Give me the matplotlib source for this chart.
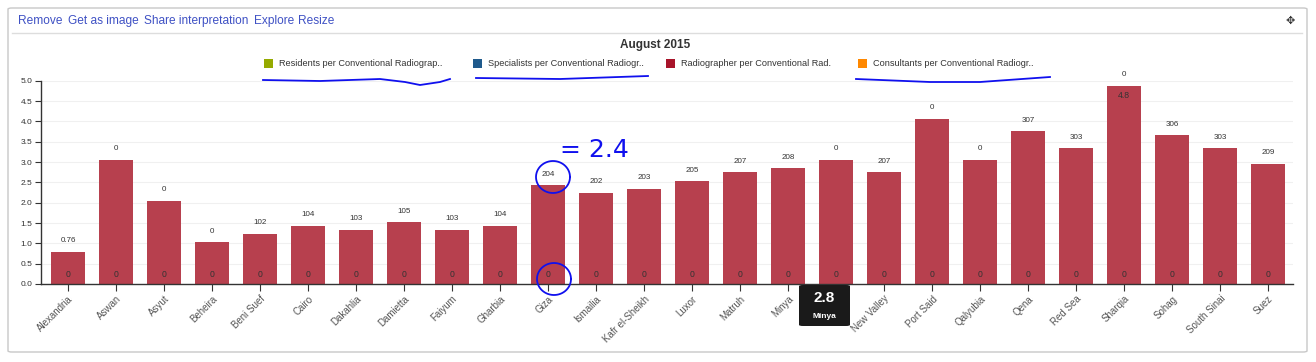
import numpy as np
import matplotlib.pyplot as plt
from matplotlib.patches import FancyBboxPatch, Rectangle
from matplotlib.lines import Line2D

plt.rcParams['font.family'] = ['Liberation Sans', 'DejaVu Sans']

# data
regions = ['Alexandria', 'Aswan', 'Asyut', 'Beheira', 'Beni Suef', 'Cairo', 'Dakahlia',
           'Damietta', 'Faiyum', 'Gharbia', 'Giza', 'Ismailia', 'Kafr el-Sheikh', 'Luxor',
           'Matruh', 'Minya', 'Manufia', 'New Valley', 'Port Said', 'Qalyubia', 'Qena',
           'Red Sea', 'Sharqia', 'Sohag', 'South Sinai', 'Suez']
radiographer = [0.79, 3.05, 2.04, 1.03, 1.23, 1.43, 1.33, 1.52, 1.33, 1.43, 2.43, 2.24,
                2.34, 2.53, 2.75, 2.85, 3.05, 2.75, 4.06, 3.05, 3.76, 3.34, 4.87, 3.66,
                3.34, 2.95]
top_labels = ['0.76', '0', '0', '0', '102', '104', '103', '105', '103', '104', '204', '202',
              '203', '205', '207', '208', '0', '207', '0', '0', '307', '303', '0', '306',
              '303', '209']
base_labels = ['0'] * len(regions)
legend_labels = ['Residents per Conventional Radiograp..', 'Specialists per Conventional Radiogr..',
                 'Radiographer per Conventional Rad.', 'Consultants per Conventional Radiogr..']
legend_colors = ['#95aa00', '#1f5a8c', '#a8142a', '#ff8800']
header_links = ['Remove', 'Get as image', 'Share interpretation', 'Explore', 'Resize']

W, H = 1316, 362
fig = plt.figure(figsize=(W / 100, H / 100), dpi=100)


def fx(x):
    return x / W


def fy(y):
    return 1 - y / H


# panel frame
fig.patches.append(FancyBboxPatch((fx(8), fy(352)), fx(1299), (344) / H,
                                  boxstyle='round,pad=0,rounding_size=0.003',
                                  transform=fig.transFigure, fc='white', ec='#c8c8c8', lw=1,
                                  zorder=-5))
fig.add_artist(Line2D([fx(12), fx(1302)], [fy(33), fy(33)], color='#dddddd', lw=1))

# header links
xs = [18, 68, 144, 254, 298]
for x, t in zip(xs, header_links):
    fig.text(fx(x), fy(21), t, color='#3f51c4', fontsize=8.6, va='center', ha='left')
fig.text(fx(1290), fy(21), '\u2725', color='#333333', fontsize=8, va='center', ha='center',
         family=['DejaVu Sans'])

# title and legend
fig.text(fx(655), fy(45), 'August 2015', fontsize=8.5, fontweight='bold', color='#333333',
         ha='center', va='center')
sq_x = [264, 473, 666, 858]
for x, lab, c in zip(sq_x, legend_labels, legend_colors):
    fig.patches.append(Rectangle((fx(x), fy(68)), fx(9), 9 / H, transform=fig.transFigure,
                                 fc=c, ec='none'))
    fig.text(fx(x + 15), fy(63), lab, fontsize=6.6, color='#333333', ha='left', va='center')

# chart axes
ax = fig.add_axes([fx(40.7), fy(284), fx(1293 - 40.7), (284 - 80.7) / H])
ax.set_zorder(2)
ax.patch.set_visible(False)
x = np.arange(len(regions))
ax.bar(x, radiographer, width=0.71, color='#b7404e', zorder=2)
ax.set_xlim(-0.57, len(regions) - 0.48)
ax.set_ylim(0, 5.0)
ax.set_yticks(np.arange(0, 5.01, 0.5))
ax.set_yticklabels([f'{v:.1f}' for v in np.arange(0, 5.01, 0.5)])
ax.set_xticks(x)
ax.set_xticklabels(regions, rotation=45, ha='right', rotation_mode='anchor')
for s in ['top', 'right']:
    ax.spines[s].set_visible(False)
for s in ['left', 'bottom']:
    ax.spines[s].set_color('#333333')
    ax.spines[s].set_linewidth(1)
ax.grid(axis='y', color='#f0f0f0', lw=0.8, zorder=0)
ax.tick_params(axis='y', labelsize=6, colors='#333333', length=4, pad=2)
ax.tick_params(axis='x', labelsize=7, colors='#333333', length=5, pad=2)
for lbl in ax.get_xticklabels():
    lbl.set_color('#555555')

for i, v in enumerate(radiographer):
    ax.annotate(top_labels[i], (i, v), xytext=(0, 8), textcoords='offset points',
                ha='center', va='center', fontsize=5.8, color='#333333', annotation_clip=False)
    ax.annotate(base_labels[i], (i, 0), xytext=(0, 6.5), textcoords='offset points',
                ha='center', va='center', fontsize=6.2, color='#333333')
sh = regions.index('Sharqia')
ax.annotate('4.8', (sh, radiographer[sh]), xytext=(0, -7), textcoords='offset points',
            ha='center', va='center', fontsize=6.2, color='#333333')

# tooltip
fig.patches.append(FancyBboxPatch((fx(799), fy(326)), fx(51), 41 / H,
                                  boxstyle='round,pad=0,rounding_size=0.003',
                                  transform=fig.transFigure, fc='#1a1a1a', ec='none', zorder=5))
fig.text(fx(824.5), fy(298), '2.8', color='white', fontsize=11, fontweight='bold',
         ha='center', va='center', zorder=6)
fig.text(fx(824.5), fy(317), 'Minya', color='white', fontsize=6, fontweight='bold',
         ha='center', va='center', zorder=6)

# hand-drawn pen marks
pen = dict(color='#1010ee', lw=1.3, zorder=7)
fig.add_artist(Line2D([fx(p) for p in [263, 320, 380, 405, 420, 440, 450]],
                      [fy(p) for p in [80, 81, 79, 82, 85, 82, 79]], **pen))
fig.add_artist(Line2D([fx(p) for p in [476, 560, 648]], [fy(p) for p in [78, 79, 76]], **pen))
fig.add_artist(Line2D([fx(p) for p in [856, 930, 980, 1050]], [fy(p) for p in [79, 82, 82, 77]], **pen))
t = np.linspace(0, 2 * np.pi, 60)
for cx, cy in [(553, 177), (554, 279)]:
    fig.add_artist(Line2D(fx(cx + 17 * np.cos(t)), fy(cy + 16 * np.sin(t)), **pen))
fig.text(fx(560), fy(150), '= 2.4', color='#1010ee', fontsize=18, ha='left', va='center',
         family=['DejaVu Sans'], zorder=7)

fig.savefig('out.png', dpi=100)
